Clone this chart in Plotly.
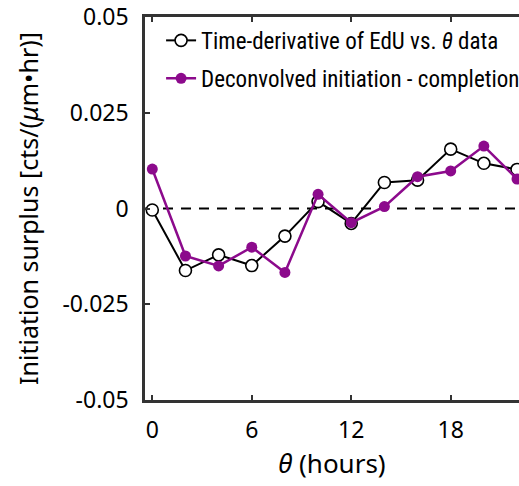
import plotly.graph_objects as go

theta = [0, 2, 4, 6, 8, 10, 12, 14, 16, 18, 20, 22]
edu_derivative = [-0.0004, -0.0162, -0.0121, -0.0149, -0.0072, 0.0018, -0.0039, 0.0068, 0.0074, 0.0155, 0.0118, 0.0102]
deconvolved = [0.0103, -0.0124, -0.0150, -0.0101, -0.0167, 0.0037, -0.0037, 0.0005, 0.0083, 0.0098, 0.0163, 0.0077]

x_ticks = [0, 6, 12, 18]
y_ticks = [-0.05, -0.025, 0, 0.025, 0.05]
y_ticklabels = ["-0.05", "-0.025", "0", "0.025", "0.05"]

purple = "#8C0A8C"
axis_col = "#333333"
base_font = "Noto Sans, Open Sans, sans-serif"

fig = go.Figure()
fig.add_trace(go.Scatter(
    x=theta, y=edu_derivative, mode="lines+markers",
    name="Time-derivative of EdU vs. <i>θ</i> data", legendgroup="a",
    line=dict(color="black", width=2),
    marker=dict(symbol="circle", size=12, color="white", line=dict(color="black", width=1.6)),
    cliponaxis=False,
))
fig.add_trace(go.Scatter(
    x=theta, y=deconvolved, mode="lines+markers",
    name="Deconvolved initiation - completion", legendgroup="b",
    line=dict(color=purple, width=2.5),
    marker=dict(symbol="circle", size=11, color=purple),
    cliponaxis=False,
))

fig.add_shape(type="line", xref="paper", yref="y", x0=0, x1=1, y0=0, y1=0,
              line=dict(color="black", width=2, dash="10px,8px"), layer="below")

fig.update_layout(
    width=519, height=486,
    margin=dict(l=145, r=0, t=17, b=86, autoexpand=False),
    plot_bgcolor="white", paper_bgcolor="white",
    font=dict(family=base_font, size=23, color="black"),
    showlegend=True,
    legend=dict(
        x=0.043, y=0.995, xanchor="left", yanchor="top",
        bgcolor="rgba(0,0,0,0)",
        font=dict(family="Roboto Condensed, sans-serif", size=23),
        itemwidth=30, traceorder="grouped", tracegroupgap=5,
    ),
    xaxis=dict(
        range=[-0.44, 22.12], tickvals=x_ticks, ticktext=[str(v) for v in x_ticks],
        ticks="inside", ticklen=5, tickwidth=2, tickcolor=axis_col,
        showline=True, linecolor=axis_col, linewidth=2.5, mirror="ticks",
        showgrid=False, zeroline=False,
        ticklabelstandoff=8,
        title=dict(text="<i>θ</i> (hours)", standoff=11,
                   font=dict(family=base_font, size=26, color="black")),
    ),
    yaxis=dict(
        range=[-0.05, 0.05], tickvals=y_ticks, ticktext=y_ticklabels,
        ticks="inside", ticklen=5, tickwidth=2, tickcolor=axis_col,
        showline=True, linecolor=axis_col, linewidth=2.5,
        showgrid=False, zeroline=False,
        ticklabelstandoff=9,
        title=dict(text="Initiation surplus [cts/(<i>μ</i>m•hr)]", standoff=17,
                   font=dict(family=base_font, size=25, color="black")),
    ),
)

fig.write_html("out.html")
